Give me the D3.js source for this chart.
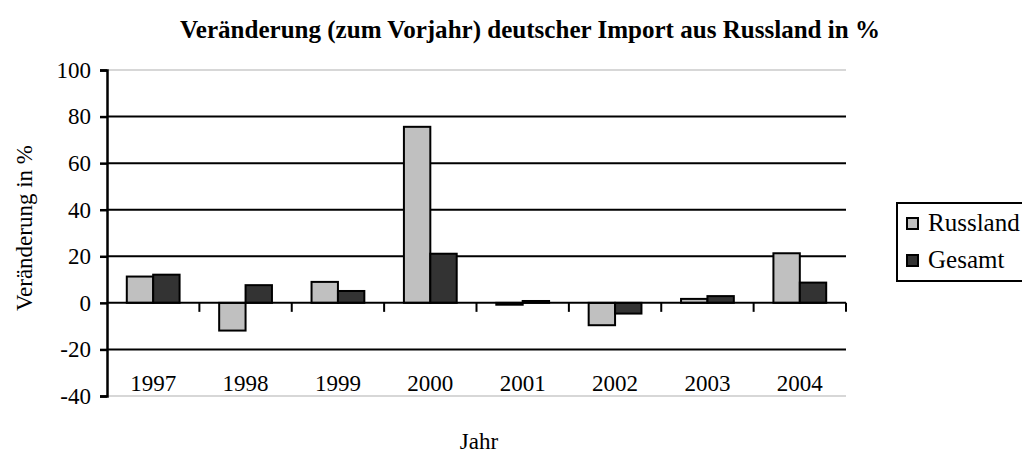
<!DOCTYPE html>
<html><head><meta charset="utf-8">
<script src="https://cdn.jsdelivr.net/npm/d3@7"></script>
<style>body{margin:0;background:#fff}svg{display:block}text{font-family:"Liberation Serif","DejaVu Serif",serif;fill:#000}</style>
</head><body>
<svg id="c" width="1022" height="456"></svg>
<script>
const years = ["1997","1998","1999","2000","2001","2002","2003","2004"];
const russland = [11.3, -11.9, 9.0, 75.6, -0.8, -9.6, 1.7, 21.3];
const gesamt = [12.1, 7.6, 5.1, 21.1, 0.8, -4.6, 2.9, 8.7];
const seriesNames = ["Russland","Gesamt"];
const seriesColors = ["#c0c0c0","#333333"];
const yTicks = [-40,-20,0,20,40,60,80,100];

const svg = d3.select("#c");
const L = 107, R = 846, T = 70, B = 396;
const x = d3.scaleBand().domain(years).range([L, R]).paddingInner(0).paddingOuter(0);
const xi = d3.scaleBand().domain(seriesNames).range([0, x.bandwidth()]).paddingOuter(0.75).paddingInner(0);
const y = d3.scaleLinear().domain([-40, 100]).range([B, T]);

svg.append("line").attr("x1", L).attr("x2", R).attr("y1", y(100)).attr("y2", y(100)).attr("stroke", "#b0b0b0").attr("stroke-width", 1.2);
svg.append("line").attr("x1", L).attr("x2", R).attr("y1", y(-40)).attr("y2", y(-40)).attr("stroke", "#b0b0b0").attr("stroke-width", 1.2);

svg.append("g").selectAll("line").data(yTicks.filter(d => d !== 100 && d !== -40 && d !== 0)).join("line")
  .attr("x1", L).attr("x2", R).attr("y1", d => y(d)).attr("y2", d => y(d))
  .attr("stroke", "#000").attr("stroke-width", 2);

const data = years.map((yr, i) => ({yr, vals: [russland[i], gesamt[i]]}));
const g = svg.append("g");
data.forEach(d => {
  d.vals.forEach((v, j) => {
    g.append("rect")
      .attr("x", x(d.yr) + xi(seriesNames[j]))
      .attr("width", xi.bandwidth())
      .attr("y", y(Math.max(0, v)))
      .attr("height", Math.abs(y(v) - y(0)))
      .attr("fill", seriesColors[j]).attr("stroke", "#000").attr("stroke-width", 2);
  });
});

svg.append("line").attr("x1", L).attr("x2", R).attr("y1", y(0)).attr("y2", y(0)).attr("stroke", "#000").attr("stroke-width", 2);
const bounds = years.map(d => x(d)).concat([R]);
svg.append("g").selectAll("line").data(bounds.slice(1)).join("line")
  .attr("x1", d => d).attr("x2", d => d).attr("y1", y(0)).attr("y2", y(0) + 9)
  .attr("stroke", "#000").attr("stroke-width", 2);

const yAxis = d3.axisLeft(y).tickValues(yTicks).tickSize(7).tickPadding(9).tickFormat(d => String(d));
const ya = svg.append("g").attr("transform", `translate(${L},0)`).call(yAxis);
ya.select(".domain").attr("stroke-width", 2.5);
ya.selectAll(".tick line").attr("stroke-width", 2.5);
ya.selectAll(".tick text").style("font-size", "23px").style("font-family", '"Liberation Serif",serif').attr("fill", "#000");

svg.append("g").selectAll("text").data(years).join("text")
  .attr("x", d => x(d) + x.bandwidth() / 2).attr("y", 391)
  .attr("text-anchor", "middle").style("font-size", "23px").text(d => d);

svg.append("text").attr("x", 530).attr("y", 38).attr("text-anchor", "middle")
  .style("font-size", "25px").style("font-weight", "bold")
  .attr("textLength", 700).attr("lengthAdjust", "spacingAndGlyphs")
  .text("Veränderung (zum Vorjahr) deutscher Import aus Russland in %");

svg.append("text").attr("transform", "translate(32,228) rotate(-90)").attr("text-anchor", "middle")
  .style("font-size", "23px").text("Veränderung in %");
svg.append("text").attr("x", 479).attr("y", 449).attr("text-anchor", "middle")
  .style("font-size", "23px").text("Jahr");

const lg = svg.append("g");
lg.append("rect").attr("x", 897).attr("y", 203).attr("width", 140).attr("height", 78)
  .attr("fill", "#fff").attr("stroke", "#000").attr("stroke-width", 2);
seriesNames.forEach((n, i) => {
  const cy = 223 + i * 37;
  lg.append("rect").attr("x", 907).attr("y", cy - 5).attr("width", 11).attr("height", 11)
    .attr("fill", seriesColors[i]).attr("stroke", "#000").attr("stroke-width", 2);
  lg.append("text").attr("x", 928).attr("y", cy + 8).style("font-size", "25px").text(n);
});
</script>
</body></html>
